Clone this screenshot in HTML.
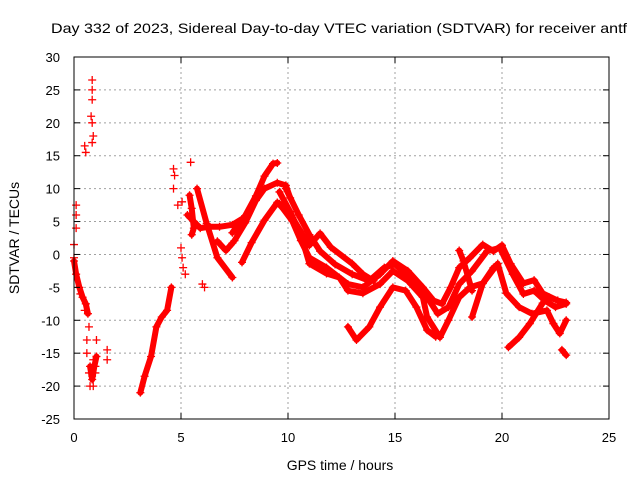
<!DOCTYPE html>
<html><head><meta charset="utf-8"><style>
body{margin:0;background:#fff}
svg{display:block;font-family:"Liberation Sans",sans-serif}
</style></head><body>
<svg id="chart" width="640" height="480" viewBox="0 0 640 480">
<rect width="640" height="480" fill="#fff"/>
<text x="339" y="33" font-size="14" text-anchor="middle" textLength="576" lengthAdjust="spacingAndGlyphs">Day 332 of 2023, Sidereal Day-to-day VTEC variation (SDTVAR) for receiver antf</text>
<g id="grid"></g>
<g id="marks"></g>
<rect x="74" y="57" width="535" height="362" fill="none" stroke="#000" stroke-width="1"/>
<g id="axes"></g>
<text x="340" y="470" font-size="14" text-anchor="middle">GPS time / hours</text>
<text transform="translate(19,238) rotate(-90)" font-size="14" text-anchor="middle">SDTVAR / TECUs</text>
</svg>
<script>
const xTicks=[0,5,10,15,20,25];
const yTicks=[30,25,20,15,10,5,0,-5,-10,-15,-20,-25];
const scatterPts=[[0.1,7.5],[0.1,6],[0.1,4],[0.0,1.5],[0.0,-0.5],[0.5,16.5],[0.55,15.5],[0.85,26.5],[0.85,25],[0.85,23.5],[0.8,21],[0.85,20],[0.9,18],[0.85,17],[0.7,-11],[0.6,-13],[0.6,-15],[0.7,-18],[1.05,-13],[1.55,-14.5],[1.55,-16],[4.65,13],[4.7,12],[4.65,10],[4.85,7.5],[5.05,8],[5.45,14],[5.0,1],[5.05,-0.5],[5.1,-2],[5.2,-3],[6.0,-4.5],[6.1,-5],[0.75,-20],[0.9,-20],[1.0,-18],[0.3,-6],[0.5,-8.5],[0.9,-16],[1.0,-17]];
const trackEarly=[[0,-1],[0.1,-3],[0.25,-5],[0.4,-6.5],[0.55,-7.5],[0.65,-9]];
const trackCluster=[[0.75,-17],[0.85,-19],[0.95,-17],[1.05,-15.5]];
const trackRise=[[3.1,-21],[3.3,-18.5],[3.6,-15.5],[3.85,-11],[4.1,-9.5],[4.35,-8.5],[4.55,-5]];
const trackBand5=[[5.3,6],[5.6,5],[5.9,4],[6.3,4.2],[6.8,4.2],[7.4,4.5],[7.9,5.5]];
const trackDrop6=[[5.75,10],[6.2,4.7],[6.7,-0.5],[7.4,-3.5]];
const trackBlob=[[5.4,9],[5.5,7],[5.6,4],[5.5,3]];
const trackHook=[[6.7,2],[7.1,0.6],[7.4,1.7]];
const trackArc1=[[7.4,3.3],[8.0,5.9],[8.5,8.9],[8.9,11.9],[9.3,13.8],[9.5,13.9]];
const trackArc2=[[7.5,2.1],[8.0,4.8],[8.5,8.2],[8.9,10.0],[9.5,10.9],[9.9,10.5],[10.1,8.6]];
const trackArc3=[[7.85,-1.2],[8.3,1.8],[8.9,5.2],[9.5,7.9],[10.2,5.6],[10.6,3.5],[11.0,1.4]];
const trackUpper=[[9.6,7.7],[10.2,5.1],[10.6,2.1],[11.0,-0.5],[11.8,-2],[12.8,-4.5],[13.5,-5],[14.3,-3],[14.9,-1],[15.6,-2.5],[16.3,-5],[16.8,-7],[17.2,-7.5],[17.6,-5],[18.0,-2],[18.5,-0.5],[19.1,1.5],[19.6,0.5],[20.0,1.4],[20.4,-1.4],[21.0,-4.4],[21.5,-3.9],[21.9,-5.9],[22.6,-7],[23.0,-7.3]];
const trackUpper2=[[9.9,10],[10.5,6],[11.0,3],[11.5,0.5],[12.2,-1.5],[13.0,-3],[13.8,-4],[14.5,-2],[15.0,-1.5],[15.7,-3.5],[16.4,-6],[17.0,-9],[17.5,-8],[18.0,-4.5],[18.6,-2.5],[19.3,0.5],[19.9,1],[20.5,-3],[21.0,-6],[21.5,-5.5],[22.0,-7],[22.5,-8],[23.0,-7.5]];
const trackLower=[[9.6,9.5],[10.1,6.5],[10.6,3],[11.0,-1.4],[11.8,-2.9],[12.4,-3.5],[12.8,-5.5],[13.5,-5.9],[14.3,-4.5],[14.9,-2.5],[15.6,-4],[16.3,-6.5],[16.5,-9.5],[17.1,-12.6],[17.5,-10],[18.0,-6.5],[18.5,-5],[19.1,-4.4],[19.8,-1.4],[20.2,-5.9],[20.8,-8],[21.4,-9],[22.1,-8.5],[22.4,-10.5],[22.7,-12],[23.0,-10]];
const trackBranch=[[11.0,1.4],[11.5,3.2],[12.0,1.1],[13.0,-1.4],[13.5,-3],[14.0,-4]];
const trackBottom=[[12.8,-11],[13.2,-13],[13.8,-11],[14.3,-8],[14.9,-5],[15.5,-5.5],[16.0,-8],[16.5,-11.5],[16.9,-12.5]];
const trackMid18=[[18.6,-9.5],[19.1,-4.4],[19.6,-2]];
const trackSpike=[[18.0,0.6],[18.2,-1],[18.6,-5.5]];
const trackRight=[[20.3,-14.1],[20.8,-12.6],[21.3,-10.5],[21.9,-7.4],[22.2,-6.5],[22.6,-7]];
const trackTail=[[22.8,-14.5],[23.0,-15.3]];
const tracks=[trackEarly,trackCluster,trackRise,trackBand5,trackDrop6,trackBlob,trackHook,trackArc1,trackArc2,trackArc3,trackUpper,trackUpper2,trackLower,trackBranch,trackBottom,trackMid18,trackSpike,trackRight,trackTail];

const X0=74,X1=609,Y0=419,Y1=57;
function sx(t){return X0+(t-0)/(25-0)*(X1-X0);}
function sy(v){return Y0-(v+25)/(30+25)*(Y0-Y1);}
const NS='http://www.w3.org/2000/svg';
const grid=document.getElementById('grid'),axes=document.getElementById('axes'),marks=document.getElementById('marks');
function mk(tag,attrs,parent){const e=document.createElementNS(NS,tag);for(const k in attrs)e.setAttribute(k,attrs[k]);parent.appendChild(e);return e;}
xTicks.forEach(t=>{
  const x=sx(t);
  if(t>0&&t<25){const g=mk('line',{x1:x,x2:x,y1:Y1,y2:Y0,stroke:'#a0a0a0','stroke-dasharray':'2,3'},grid);
  
  }
  mk('line',{x1:x,x2:x,y1:Y0,y2:Y0-6,stroke:'#000'},axes);
  mk('line',{x1:x,x2:x,y1:Y1,y2:Y1+6,stroke:'#000'},axes);
  const l=mk('text',{x:x,y:442,'font-size':13,'text-anchor':'middle'},axes);l.textContent=t;
  
  
});
yTicks.forEach(v=>{
  const y=sy(v);
  if(v<30&&v>-25){const g=mk('line',{x1:X0,x2:X1,y1:y,y2:y,stroke:'#a0a0a0','stroke-dasharray':'2,3'},grid);
  
  }
  mk('line',{x1:X0,x2:X0+6,y1:y,y2:y,stroke:'#000'},axes);
  mk('line',{x1:X1,x2:X1-6,y1:y,y2:y,stroke:'#000'},axes);
  const l=mk('text',{x:X0-14,y:y+5,'font-size':13,'text-anchor':'end'},axes);l.textContent=v;
  
  
});
function plus(t,v){
  const x=sx(t),y=sy(v);
  const p=mk('path',{d:`M${x-4},${y}h8M${x},${y-4}v8`,stroke:'#f00','stroke-width':1.3},marks);
  
  
}
tracks.forEach(tr=>{
  const pl=mk('polyline',{points:tr.map(p=>sx(p[0])+','+sy(p[1])).join(' '),fill:'none',stroke:'#f00','stroke-width':6,'stroke-linejoin':'round','stroke-linecap':'round'},marks);
  
  
  tr.forEach(p=>plus(p[0],p[1]));
});
scatterPts.forEach(p=>plus(p[0],p[1]));
</script>
</body></html>
